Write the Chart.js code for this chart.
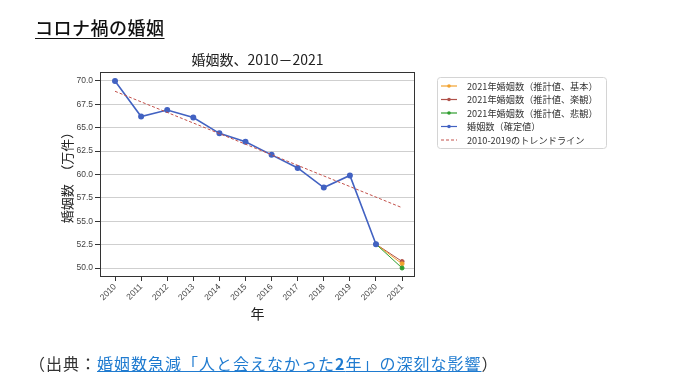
<!DOCTYPE html>
<html>
<head>
<meta charset="utf-8">
<script src="https://cdn.jsdelivr.net/npm/chart.js@4.4.1/dist/chart.umd.min.js"></script>
<style>
  body { margin: 0; background: #fff; }
  #hoja { position: relative; width: 681px; height: 392px; overflow: hidden; font-family: "Noto Sans CJK JP", sans-serif; }
  #grafico { position: absolute; left: 0; top: 0; }
  #titulo { position: absolute; left: 35px; top: 18px; margin: 0; font-size: 18px; line-height: 18px; font-weight: 500; color: #111; text-decoration: underline; text-underline-offset: 3px; letter-spacing: 0.5px; white-space: nowrap; }
  #fuente { position: absolute; left: 29px; top: 354px; font-size: 16px; line-height: 18px; color: #333; white-space: nowrap; letter-spacing: 1px; }
  #fuente a { color: #1f7bd0; text-decoration: underline; }
</style>
</head>
<body>
<div id="hoja">
  <canvas id="grafico" width="681" height="392"></canvas>
  <div id="titulo">コロナ禍の婚姻</div>
  <div id="fuente">（出典：<a href="#">婚姻数急減「人と会えなかった<b>2</b>年」の深刻な影響</a>）</div>
</div>
<script>
// datos (万件)
var anios = [2010, 2011, 2012, 2013, 2014, 2015, 2016, 2017, 2018, 2019, 2020];
var confirmados = [70.0, 66.2, 66.9, 66.1, 64.4, 63.5, 62.1, 60.7, 58.6, 59.9, 52.55];
var anioEstimado = [2020, 2021];
var estimadoBase = [52.55, 50.45];
var estimadoOptimista = [52.55, 50.7];
var estimadoPesimista = [52.55, 50.0];
var anioTendencia = [2010, 2021];
var tendencia = [68.9, 56.45];
var ticksX = [2010, 2011, 2012, 2013, 2014, 2015, 2016, 2017, 2018, 2019, 2020, 2021];
var ticksY = [50.0, 52.5, 55.0, 57.5, 60.0, 62.5, 65.0, 67.5, 70.0];

function puntos(xs, ys) {
  return xs.map(function (x, i) { return { x: x, y: ys[i] }; });
}

var colorAzul = '#4262c2';
var colorNaranja = '#f2a22e';
var colorRojo = '#b0524a';
var colorVerde = '#2f9e2f';
var colorTendencia = '#c2504a';

var data = {
  datasets: [
    { label: '2021年婚姻数（推計値、基本）', data: puntos(anioEstimado, estimadoBase), borderColor: colorNaranja, backgroundColor: colorNaranja, borderWidth: 1, pointRadius: 2, order: 3 },
    { label: '2021年婚姻数（推計値、楽観）', data: puntos(anioEstimado, estimadoOptimista), borderColor: colorRojo, backgroundColor: colorRojo, borderWidth: 1, pointRadius: 2, order: 4 },
    { label: '2021年婚姻数（推計値、悲観）', data: puntos(anioEstimado, estimadoPesimista), borderColor: colorVerde, backgroundColor: colorVerde, borderWidth: 1, pointRadius: 2, order: 2 },
    { label: '婚姻数（確定値）', data: puntos(anios, confirmados), borderColor: colorAzul, backgroundColor: colorAzul, borderWidth: 1.6, pointRadius: 2.2, order: 1 },
    { label: '2010-2019のトレンドライン', data: puntos(anioTendencia, tendencia), borderColor: colorTendencia, backgroundColor: colorTendencia, borderWidth: 1, borderDash: [3, 2], pointRadius: 0, order: 0, esTendencia: true }
  ]
};

// titulo, marco y leyenda dibujados sobre el canvas
var extras = {
  id: 'extras',
  afterDraw: function (chart) {
    var ctx = chart.ctx;
    var a = chart.chartArea;
    ctx.save();
    // marco del area
    ctx.strokeStyle = '#333';
    ctx.lineWidth = 1;
    ctx.strokeRect(Math.round(a.left) + 0.5, Math.round(a.top) + 0.5, Math.round(a.right - a.left) - 1, Math.round(a.bottom - a.top) - 1);
    // titulo
    ctx.fillStyle = '#222';
    ctx.font = '14px "Noto Sans CJK JP"';
    ctx.textAlign = 'center';
    ctx.textBaseline = 'middle';
    ctx.fillText('婚姻数、2010－2021', (a.left + a.right) / 2, 60);
    // leyenda
    var lx = 437, ly = 77, lw = 169, lh = 71;
    ctx.strokeStyle = '#d4d4d4';
    ctx.beginPath();
    ctx.roundRect(lx + 0.5, ly + 0.5, lw, lh, 3);
    ctx.stroke();
    ctx.font = '9.2px "Noto Sans CJK JP"';
    ctx.textAlign = 'left';
    chart.data.datasets.forEach(function (ds, i) {
      var y = 86 + i * 13.5;
      ctx.strokeStyle = ds.borderColor;
      ctx.lineWidth = ds.esTendencia ? 1 : 1.2;
      ctx.setLineDash(ds.esTendencia ? [3, 2] : []);
      ctx.beginPath();
      ctx.moveTo(441, y);
      ctx.lineTo(457, y);
      ctx.stroke();
      ctx.setLineDash([]);
      if (!ds.esTendencia) {
        ctx.fillStyle = ds.borderColor;
        ctx.beginPath();
        ctx.arc(449, y, 1.8, 0, Math.PI * 2);
        ctx.fill();
      }
      ctx.fillStyle = '#333';
      ctx.fillText(ds.label, 467, y + 0.5);
    });
    ctx.restore();
  }
};

var grafico = new Chart(document.getElementById('grafico').getContext('2d'), {
  type: 'line',
  data: data,
  plugins: [extras],
  options: {
    responsive: false,
    animation: false,
    devicePixelRatio: 1,
    layout: { padding: { left: 55, top: 72, right: 266, bottom: 70 } },
    plugins: { legend: { display: false }, title: { display: false }, tooltip: { enabled: false } },
    elements: { line: { tension: 0 }, point: { borderWidth: 0 } },
    scales: {
      x: {
        type: 'linear',
        min: 2009.425,
        max: 2021.495,
        afterBuildTicks: function (s) { s.ticks = ticksX.map(function (v) { return { value: v }; }); },
        afterFit: function (s) { s.height = 45; },
        ticks: {
          autoSkip: false, minRotation: 45, maxRotation: 45, padding: 1,
          color: '#444', font: { family: 'Liberation Sans', size: 8.5 },
          callback: function (v) { return String(v); }
        },
        grid: { drawOnChartArea: false, tickLength: 4, tickColor: '#333' },
        border: { display: false },
        title: { display: true, text: '年', color: '#222', font: { family: 'Noto Sans CJK JP', size: 14 }, padding: { top: 0, bottom: 0 } }
      },
      y: {
        min: 49.04,
        max: 70.96,
        afterBuildTicks: function (s) { s.ticks = ticksY.map(function (v) { return { value: v }; }); },
        afterFit: function (s) { s.width = 45; },
        ticks: {
          padding: 2, color: '#444', font: { family: 'Liberation Sans', size: 8.5 },
          callback: function (v) { return Number(v).toFixed(1); }
        },
        grid: { color: '#cfcfcf', lineWidth: 1, tickLength: 5, tickColor: '#333' },
        border: { display: false },
        title: { display: true, text: '婚姻数　（万件）', color: '#222', font: { family: 'Noto Sans CJK JP', size: 13 }, padding: { top: 4, bottom: 4 } }
      }
    }
  }
});
</script>
</body>
</html>
